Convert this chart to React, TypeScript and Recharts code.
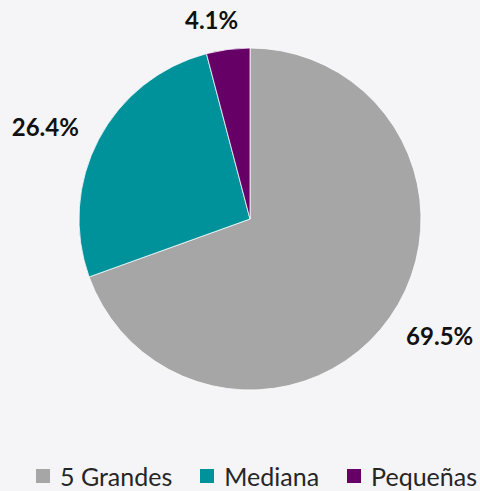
import { PieChart, Pie, Cell } from "recharts";

const categories = ["5 Grandes", "Mediana", "Pequeñas"];
const shares = [69.5, 26.4, 4.1];
const colors = ["#a6a6a6", "#00929b", "#660066"];

const data = categories.map((name, i) => ({ name, value: shares[i] }));

const RAD = Math.PI / 180;
const FONT = "Lato, 'Open Sans', sans-serif";

function renderLabel(props: any) {
  const { cx, cy, midAngle, outerRadius, value } = props;
  // labels sit a little counter-clockwise of the slice middle, like the source
  const a = (midAngle + 3.5) * RAD;
  const c = Math.cos(-a);
  const s = Math.sin(-a);
  const r = outerRadius + 27 + 29 * Math.abs(c);
  return (
    <text
      x={cx + r * c}
      y={cy + r * s}
      textAnchor="middle"
      dominantBaseline="central"
      fill="#111"
      fontSize={24}
      fontWeight={700}
      fontFamily={FONT}
    >
      {value.toFixed(1)}%
    </text>
  );
}

function LegendRow() {
  return (
    <div
      style={{
        position: "absolute",
        left: 36,
        top: 461,
        width: 444,
        display: "flex",
        flexWrap: "nowrap",
        alignItems: "center",
        whiteSpace: "nowrap",
        fontFamily: FONT,
        fontSize: 25,
        lineHeight: "30px",
        color: "#262626",
      }}
    >
      {categories.map((name, i) => (
        <div
          key={name}
          style={{ display: "flex", alignItems: "center", marginRight: 28, flexShrink: 0 }}
        >
          <span
            style={{
              width: 14,
              height: 14,
              background: colors[i],
              display: "inline-block",
              marginRight: 10,
              flexShrink: 0,
            }}
          />
          <span>{name}</span>
        </div>
      ))}
    </div>
  );
}

export default function App() {
  return (
    <div
      style={{
        position: "fixed",
        left: 0,
        top: 0,
        width: 480,
        height: 491,
        background: "#f5f5f7",
        overflow: "hidden",
      }}
    >
      <PieChart width={480} height={491}>
        <Pie
          data={data}
          dataKey="value"
          nameKey="name"
          cx={245}
          cy={214}
          outerRadius={171}
          startAngle={90}
          endAngle={-270}
          stroke="#ffffff"
          strokeWidth={0.75}
          label={renderLabel}
          labelLine={false}
          isAnimationActive={false}
        >
          {data.map((d, i) => (
            <Cell key={d.name} fill={colors[i]} />
          ))}
        </Pie>
      </PieChart>
      <LegendRow />
    </div>
  );
}
